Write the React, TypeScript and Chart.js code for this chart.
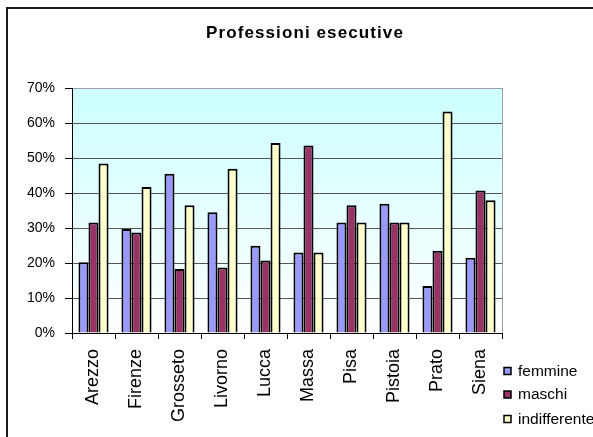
import React, { useEffect, useRef } from "react";
import { Chart, registerables } from "chart.js";

Chart.register(...registerables);

const TITLE = "Professioni esecutive";
const categories = ["Arezzo", "Firenze", "Grosseto", "Livorno", "Lucca", "Massa", "Pisa", "Pistoia", "Prato", "Siena"];
const femmine = [20.2, 29.7, 45.5, 34.5, 24.9, 23.0, 31.6, 36.9, 13.4, 21.5];
const maschi = [31.6, 28.7, 18.3, 18.7, 20.7, 53.6, 36.5, 31.6, 23.5, 40.7];
const indifferente = [48.4, 41.7, 36.5, 46.9, 54.3, 23.0, 31.6, 31.6, 63.3, 37.9];
const seriesNames = ["femmine", "maschi", "indifferente"];
const seriesColors = ["#9999ff", "#993366", "#ffffcc"];
const yTicksMax = 70;
const yStep = 10;

const FONT = "'Liberation Sans', Arial, sans-serif";

export default function App() {
  const ref = useRef<HTMLCanvasElement | null>(null);

  useEffect(() => {
    const canvas = ref.current;
    if (!canvas) return;

    const decor = {
      id: "decor",
      beforeDraw(chart: any) {
        const { ctx, chartArea: a } = chart;
        ctx.save();
        ctx.fillStyle = "#ffffff";
        ctx.fillRect(0, 0, chart.width, chart.height);
        const g = ctx.createLinearGradient(0, a.top, 0, a.bottom);
        g.addColorStop(0, "#ccffff");
        g.addColorStop(1, "#ffffff");
        ctx.fillStyle = g;
        ctx.fillRect(a.left, a.top, a.right - a.left, a.bottom - a.top);
        ctx.restore();
      },
      afterDraw(chart: any) {
        const { ctx, chartArea: a } = chart;
        ctx.save();
        // right border of plot area
        ctx.strokeStyle = "#a0a0a0";
        ctx.lineWidth = 1;
        ctx.beginPath();
        ctx.moveTo(Math.round(a.right) + 0.5, a.top);
        ctx.lineTo(Math.round(a.right) + 0.5, a.bottom);
        ctx.stroke();

        // title
        ctx.fillStyle = "#000";
        ctx.font = `bold 17px ${FONT}`;
        ctx.textAlign = "center";
        ctx.textBaseline = "middle";
        try { (ctx as any).letterSpacing = "1.1px"; } catch (e) {}
        ctx.fillText(TITLE, 305, 33.5);
        try { (ctx as any).letterSpacing = "0px"; } catch (e) {}

        // legend
        const rows = [371, 394.5, 419];
        ctx.font = `15.5px ${FONT}`;
        ctx.textAlign = "left";
        ctx.textBaseline = "middle";
        chart.data.datasets.forEach((ds: any, i: number) => {
          const y = rows[i];
          ctx.fillStyle = ds.backgroundColor;
          ctx.fillRect(504, y - 3.5, 7, 7);
          ctx.strokeStyle = "#000";
          ctx.lineWidth = 1.5;
          ctx.strokeRect(504, y - 3.5, 7, 7);
          ctx.fillStyle = "#000";
          ctx.fillText(ds.label, 518, y + 0.5);
        });

        // outer frame
        ctx.strokeStyle = "#1a1a1a";
        ctx.lineWidth = 2;
        ctx.strokeRect(7, 8, 700, 600);
        ctx.restore();
      },
    };

    const chart = new Chart(canvas, {
      type: "bar",
      data: {
        labels: categories,
        datasets: [femmine, maschi, indifferente].map((d, i) => ({
          label: seriesNames[i],
          data: d,
          backgroundColor: seriesColors[i],
          borderColor: "#000",
          borderWidth: 2,
          barPercentage: 1,
          categoryPercentage: 0.7,
        })),
      },
      options: {
        responsive: false,
        animation: false,
        devicePixelRatio: 1,
        layout: { padding: { top: 88, right: 91, left: 0, bottom: 0 } },
        plugins: {
          legend: { display: false },
          title: { display: false },
          tooltip: { enabled: false },
        },
        scales: {
          x: {
            offset: true,
            grid: {
              display: true,
              drawOnChartArea: false,
              offset: true,
              tickLength: 6,
              tickColor: "#000",
              color: "#000",
            },
            border: { color: "#000", width: 1 },
            ticks: {
              minRotation: 90,
              maxRotation: 90,
              autoSkip: false,
              padding: 10,
              color: "#000",
              font: { family: FONT, size: 18 },
            },
            afterFit(scale: any) {
              scale.height = 104;
            },
          },
          y: {
            min: 0,
            max: yTicksMax,
            ticks: {
              stepSize: yStep,
              color: "#000",
              padding: 10,
              font: { family: FONT, size: 14 },
              callback: (v: any) => `${v}%`,
            },
            grid: {
              color: (c: any) => (c.tick && c.tick.value === yTicksMax ? "#a0a0a0" : "#555555"),
              tickColor: "#000",
              tickLength: 7,
              lineWidth: 1,
            },
            border: { color: "#000", width: 1 },
            afterFit(scale: any) {
              scale.width = 72;
            },
          },
        },
      },
      plugins: [decor],
    } as any);

    return () => chart.destroy();
  }, []);

  return (
    <div style={{ position: "absolute", left: 0, top: 0, width: 593, height: 437, background: "#fff", overflow: "hidden" }}>
      <canvas ref={ref} width={593} height={437} style={{ display: "block", width: 593, height: 437 }} />
    </div>
  );
}
